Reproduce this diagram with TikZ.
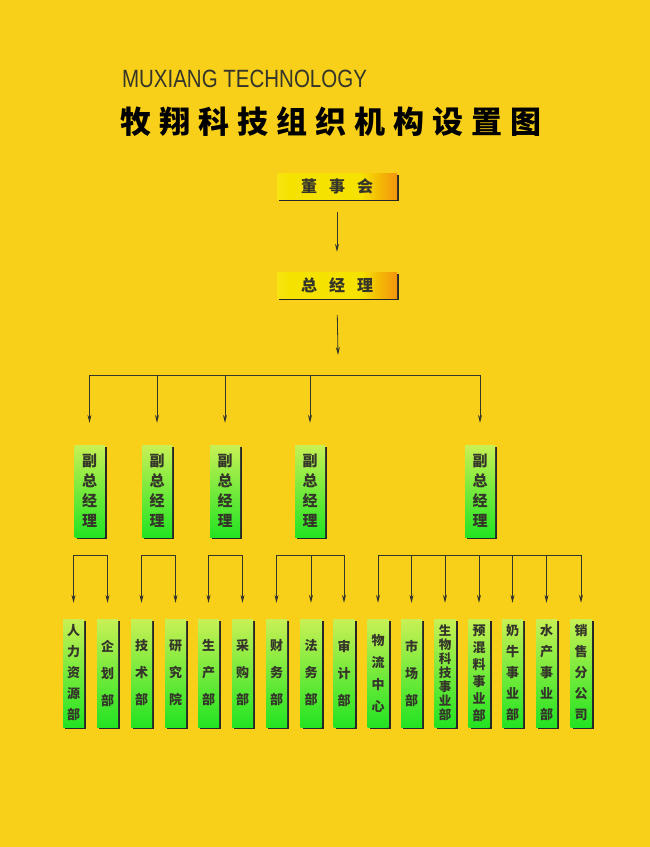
\documentclass[tikz,border=0pt]{standalone}
\usepackage{fontspec}
\setmainfont{Liberation Sans}
\newfontfamily\cjk{Noto Sans CJK SC}
\usetikzlibrary{arrows.meta,shadows}
\definecolor{bg}{HTML}{F8D01A}
\definecolor{ink}{HTML}{35352A}
\definecolor{ytl}{HTML}{F7EE6A}
\definecolor{ymid}{HTML}{F6E200}
\definecolor{yor}{HTML}{F06412}
\definecolor{yend}{HTML}{F2A030}
\definecolor{gtop}{HTML}{C8F055}
\definecolor{gbot}{HTML}{22E422}
\pgfdeclarehorizontalshading{topshade}{100bp}{color(0bp)=(ytl); color(30bp)=(ymid); color(60bp)=(ymid); color(84bp)=(yor); color(94bp)=(yor); color(100bp)=(yend)}
\tikzset{
  topbox/.style={shading=topshade, minimum width=120pt, minimum height=26pt, inner sep=0pt,
    text=ink, font=\cjk\bfseries\fontsize{16}{16}\selectfont,
    drop shadow={shadow xshift=2.2pt, shadow yshift=-2.2pt, fill=black!85, opacity=1}},
  vpbox/.style={top color=gtop, bottom color=gbot, minimum width=30pt, minimum height=92pt, inner sep=0pt,
    text=ink, align=center, font=\cjk\bfseries\fontsize{15}{20}\selectfont,
    drop shadow={shadow xshift=2.2pt, shadow yshift=-2.2pt, fill=black!85, opacity=1}},
  deptbox/.style={top color=gtop, bottom color=gbot, minimum width=21pt, minimum height=108pt, inner sep=0pt,
    text=ink, align=center,
    drop shadow={shadow xshift=2pt, shadow yshift=-2pt, fill=black!85, opacity=1}},
  conn/.style={draw=ink, line width=0.8pt},
  arr/.style={conn, -{Stealth[length=8pt,width=4pt]}}
}
\newcommand{\deptnode}[4]{\node[deptbox, font=\cjk\bfseries\fontsize{13}{#3}\selectfont] (#1) at (#2,673) {#4};}
\begin{document}
\begin{tikzpicture}[x=1pt,y=-1pt]
\fill[bg] (0,0) rectangle (650,847);
\useasboundingbox (0,0) rectangle (650,847);

% titles
\node[text=ink, font=\fontsize{25}{25}\selectfont] (en) at (244.5,79) {\scalebox{0.82}[1]{MUXIANG TECHNOLOGY}};
\node[text=black, font=\cjk\bfseries\fontsize{31}{31}\selectfont] (cn) at (331,122)
  {牧\hspace{8pt}翔\hspace{8pt}科\hspace{8pt}技\hspace{8pt}组\hspace{8pt}织\hspace{8pt}机\hspace{8pt}构\hspace{8pt}设\hspace{8pt}置\hspace{8pt}图};

% top boxes
\node[topbox] (board) at (337,186) {董\hspace{12pt}事\hspace{12pt}会};
\node[topbox] (gm) at (337,285) {总\hspace{12pt}经\hspace{12pt}理};

% vice presidents
\node[vpbox] (v1) at (89.5,491) {副\\总\\经\\理};
\node[vpbox] (v2) at (157,491) {副\\总\\经\\理};
\node[vpbox] (v3) at (225,491) {副\\总\\经\\理};
\node[vpbox] (v4) at (310,491) {副\\总\\经\\理};
\node[vpbox] (v5) at (480,491) {副\\总\\经\\理};

% departments
\deptnode{d1}{73.5}{21}{人\\力\\资\\源\\部}
\deptnode{d2}{107.5}{27}{企\\划\\部}
\deptnode{d3}{141.5}{27}{技\\术\\部}
\deptnode{d4}{175.5}{27}{研\\究\\院}
\deptnode{d5}{208.5}{27}{生\\产\\部}
\deptnode{d6}{242.5}{27}{采\\购\\部}
\deptnode{d7}{276.5}{27}{财\\务\\部}
\deptnode{d8}{311}{27}{法\\务\\部}
\deptnode{d9}{344}{27}{审\\计\\部}
\deptnode{d10}{378}{22}{物\\流\\中\\心}
\deptnode{d11}{411.5}{27}{市\\场\\部}
\node[deptbox, font=\cjk\bfseries\fontsize{12.5}{14}\selectfont] (d12) at (445,673) {生\\物\\科\\技\\事\\业\\部};
\deptnode{d13}{479}{17}{预\\混\\料\\事\\业\\部}
\deptnode{d14}{512.5}{21}{奶\\牛\\事\\业\\部}
\deptnode{d15}{546.5}{21}{水\\产\\事\\业\\部}
\deptnode{d16}{581}{21}{销\\售\\分\\公\\司}

% connectors top
\draw[arr, shorten <=13pt, shorten >=20pt] (board) -- (gm);
\coordinate (hub) at (338,355);
\draw[arr, shorten <=17pt] (gm.south) -- (hub);
\coordinate (hl) at (0,375);
\draw[conn] (v1.north |- hl) -- (v5.north |- hl);
\foreach \v in {v1,v2,v3,v4,v5}
  \draw[arr, shorten >=22pt] (\v.north |- hl) -- (\v.north);

% department brackets
\coordinate (bl) at (0,555);
\draw[conn] (d1.north |- bl) -- (d2.north |- bl);
\draw[conn] (d3.north |- bl) -- (d4.north |- bl);
\draw[conn] (d5.north |- bl) -- (d6.north |- bl);
\draw[conn] (d7.north |- bl) -- (d9.north |- bl);
\draw[conn] (d10.north |- bl) -- (d16.north |- bl);
\foreach \d in {d1,d2,d3,d4,d5,d6,d7,d8,d9,d10,d11,d12,d13,d14,d15,d16}
  \draw[arr, shorten >=16pt] (\d.north |- bl) -- (\d.north);
\end{tikzpicture}
\end{document}
